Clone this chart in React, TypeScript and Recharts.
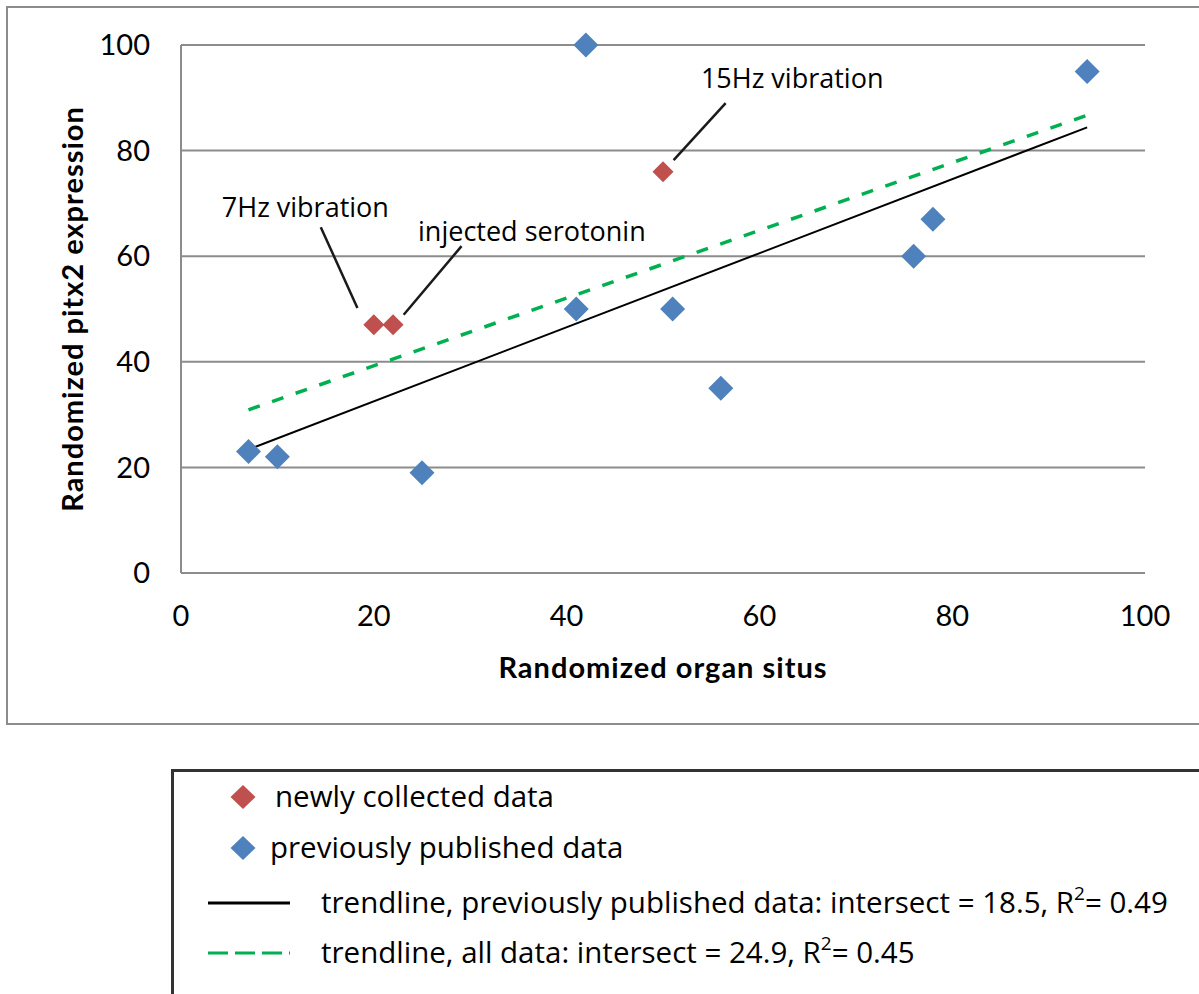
import React from 'react';
import {
  ScatterChart,
  Scatter,
  XAxis,
  YAxis,
  CartesianGrid,
  ReferenceLine,
  ReferenceDot,
  Legend,
  Label,
} from 'recharts';

// ---------- data ----------
const xTicks = [0, 20, 40, 60, 80, 100];
const yTicks = [0, 20, 40, 60, 80, 100];

const newlyCollected = [
  { x: 20, y: 47 },
  { x: 22, y: 47 },
  { x: 50, y: 76 },
];

const previouslyPublished = [
  { x: 7, y: 23 },
  { x: 10, y: 22 },
  { x: 25, y: 19 },
  { x: 41, y: 50 },
  { x: 42, y: 100 },
  { x: 51, y: 50 },
  { x: 56, y: 35 },
  { x: 76, y: 60 },
  { x: 78, y: 67 },
  { x: 94, y: 95 },
];

const trendPrevious = [
  { x: 7, y: 23.4 },
  { x: 94, y: 84.4 },
];

const trendAll = [
  { x: 7, y: 30.9 },
  { x: 94, y: 86.7 },
];

const annotations = [
  { text: '15Hz vibration', tx: 63.4, ty: 93.7, from: { x: 56.5, y: 89.0 }, to: { x: 51.1, y: 78.2 } },
  { text: '7Hz vibration', tx: 12.9, ty: 69.3, from: { x: 14.5, y: 65.5 }, to: { x: 18.3, y: 50.2 } },
  { text: 'injected serotonin', tx: 36.4, ty: 64.6, from: { x: 29.1, y: 61.9 }, to: { x: 23.1, y: 48.9 } },
];

const legendItems = [
  { label: 'newly collected data', sup: '', tail: '', kind: 'diamond', color: '#C0504D' },
  { label: 'previously published data', sup: '', tail: '', kind: 'diamond', color: '#4F81BD' },
  { label: 'trendline, previously published data: intersect = 18.5, R', sup: '2', tail: '= 0.49', kind: 'line', color: '#000000' },
  { label: 'trendline, all data: intersect = 24.9, R', sup: '2', tail: '= 0.45', kind: 'dash', color: '#00B050' },
];

const xTitle = 'Randomized organ situs';
const yTitle = 'Randomized pitx2 expression';

// ---------- styles ----------
const GRID = '#8c8c8c';
const TICK_FONT = 'Lato, "Open Sans", sans-serif';
const ANNOT_FONT = '"Open Sans", "Noto Sans", sans-serif';

const diamond = (r: number) => (props: any) => {
  const { cx, cy, fill } = props;
  if (cx == null || cy == null) return <g />;
  return (
    <polygon
      points={`${cx},${cy - r} ${cx + r},${cy} ${cx},${cy + r} ${cx - r},${cy}`}
      fill={fill}
    />
  );
};

const noShape = () => <g />;

const YTitle = (props: any) => {
  const vb = props.viewBox || { x: 0, y: 45, width: 181, height: 528 };
  const cx = vb.x + 71;
  const cy = vb.y + vb.height / 2;
  return (
    <text
      x={cx}
      y={cy}
      transform={`rotate(-90 ${cx} ${cy})`}
      textAnchor="middle"
      dominantBaseline="central"
      fontFamily={TICK_FONT}
      fontWeight="bold"
      fontSize={29}
      letterSpacing={1}
      fill="#000"
    >
      {yTitle}
    </text>
  );
};

const rowCenters = [797, 848, 903, 953];
const textLefts = [275, 270, 321, 321];

const LegendBox = () => {
  const ox = 174;
  const oy = 772;
  return (
    <div style={{ position: 'relative', width: '100%', height: '100%' }}>
      {legendItems.map((it, i) => {
        const cy = rowCenters[i] - oy;
        return (
          <React.Fragment key={i}>
            <svg
              style={{ position: 'absolute', left: 200 - ox, top: cy - 15, overflow: 'visible' }}
              width={100}
              height={30}
            >
              {it.kind === 'diamond' && (
                <polygon points="43,3 55.5,15 43,27 30.5,15" fill={it.color} />
              )}
              {it.kind === 'line' && (
                <line x1={8} x2={90} y1={15} y2={15} stroke={it.color} strokeWidth={3} />
              )}
              {it.kind === 'dash' && (
                <line
                  x1={8}
                  x2={90}
                  y1={15}
                  y2={15}
                  stroke={it.color}
                  strokeWidth={3}
                  strokeDasharray="20 7"
                />
              )}
            </svg>
            <div
              style={{
                position: 'absolute',
                left: textLefts[i] - ox,
                top: cy - 21,
                height: 40,
                lineHeight: '40px',
                fontFamily: ANNOT_FONT,
                fontSize: 29.5,
                color: '#000',
                whiteSpace: 'nowrap',
              }}
            >
              {it.label}
              {it.sup && (
                <sup style={{ fontSize: 19, verticalAlign: 'baseline', lineHeight: 0 }}>
                  <span style={{ position: 'relative', top: -13 }}>{it.sup}</span>
                </sup>
              )}
              {it.tail}
            </div>
          </React.Fragment>
        );
      })}
    </div>
  );
};

export default function App() {
  return (
    <div
      style={{
        position: 'absolute',
        left: 0,
        top: 0,
        width: 1199,
        height: 994,
        overflow: 'hidden',
        background: '#fff',
      }}
    >
      <div
        style={{
          position: 'absolute',
          left: 6,
          top: 6,
          width: 1220,
          height: 719,
          border: `2px solid ${GRID}`,
          boxSizing: 'border-box',
        }}
      />
      <div style={{ position: 'absolute', left: 0, top: 0 }}>
        <ScatterChart
          width={1199}
          height={994}
          margin={{ top: 45, right: 54, bottom: 231, left: 0 }}
        >
          <CartesianGrid vertical={false} stroke={GRID} strokeWidth={2} />
          <XAxis
            type="number"
            dataKey="x"
            domain={[0, 100]}
            ticks={xTicks}
            interval={0}
            height={190}
            axisLine={{ stroke: GRID, strokeWidth: 2 }}
            tickLine={false}
            tickSize={0}
            tickMargin={32}
            tick={{ fill: '#000', fontSize: 29, fontFamily: TICK_FONT }}
          >
            <Label
              value={xTitle}
              position="center"
              fontFamily={TICK_FONT}
              fontWeight="bold"
              fontSize={29}
              letterSpacing={1}
              fill="#000"
            />
          </XAxis>
          <YAxis
            type="number"
            dataKey="y"
            domain={[0, 100]}
            ticks={yTicks}
            interval={0}
            width={181}
            axisLine={{ stroke: GRID, strokeWidth: 2 }}
            tickLine={false}
            tickSize={0}
            tickMargin={31}
            tick={{ fill: '#000', fontSize: 29, fontFamily: TICK_FONT }}
          >
            <Label content={<YTitle />} />
          </YAxis>

          <Scatter
            name="trendline all"
            data={trendAll}
            fill="#00B050"
            shape={noShape}
            line={{ stroke: '#00B050', strokeWidth: 3.5, strokeDasharray: '12 13' }}
            legendType="none"
            isAnimationActive={false}
          />
          <Scatter
            name="trendline previous"
            data={trendPrevious}
            fill="#000"
            shape={noShape}
            line={{ stroke: '#000', strokeWidth: 2 }}
            legendType="none"
            isAnimationActive={false}
          />
          <Scatter
            name="previously published data"
            data={previouslyPublished}
            fill="#4F81BD"
            shape={diamond(12.5)}
            isAnimationActive={false}
          />
          <Scatter
            name="newly collected data"
            data={newlyCollected}
            fill="#C0504D"
            shape={diamond(10.5)}
            isAnimationActive={false}
          />

          {annotations.map((a, i) => (
            <ReferenceLine
              key={`l${i}`}
              segment={[a.from, a.to]}
              stroke="#1a1a1a"
              strokeWidth={2.5}
              ifOverflow="visible"
            />
          ))}
          {annotations.map((a, i) => (
            <ReferenceDot
              key={`t${i}`}
              x={a.tx}
              y={a.ty}
              r={1}
              fill="none"
              stroke="none"
              ifOverflow="visible"
              label={{
                value: a.text,
                position: 'center',
                fontSize: 27,
                fontFamily: ANNOT_FONT,
                fill: '#000',
              }}
            />
          ))}

          <Legend
            layout="vertical"
            align="center"
            verticalAlign="middle"
            content={<LegendBox />}
            wrapperStyle={{
              position: 'absolute',
              left: 171,
              top: 769,
              width: 1100,
              height: 300,
              border: '3px solid #333',
              boxSizing: 'border-box',
              background: '#fff',
            }}
          />
        </ScatterChart>
      </div>
    </div>
  );
}
